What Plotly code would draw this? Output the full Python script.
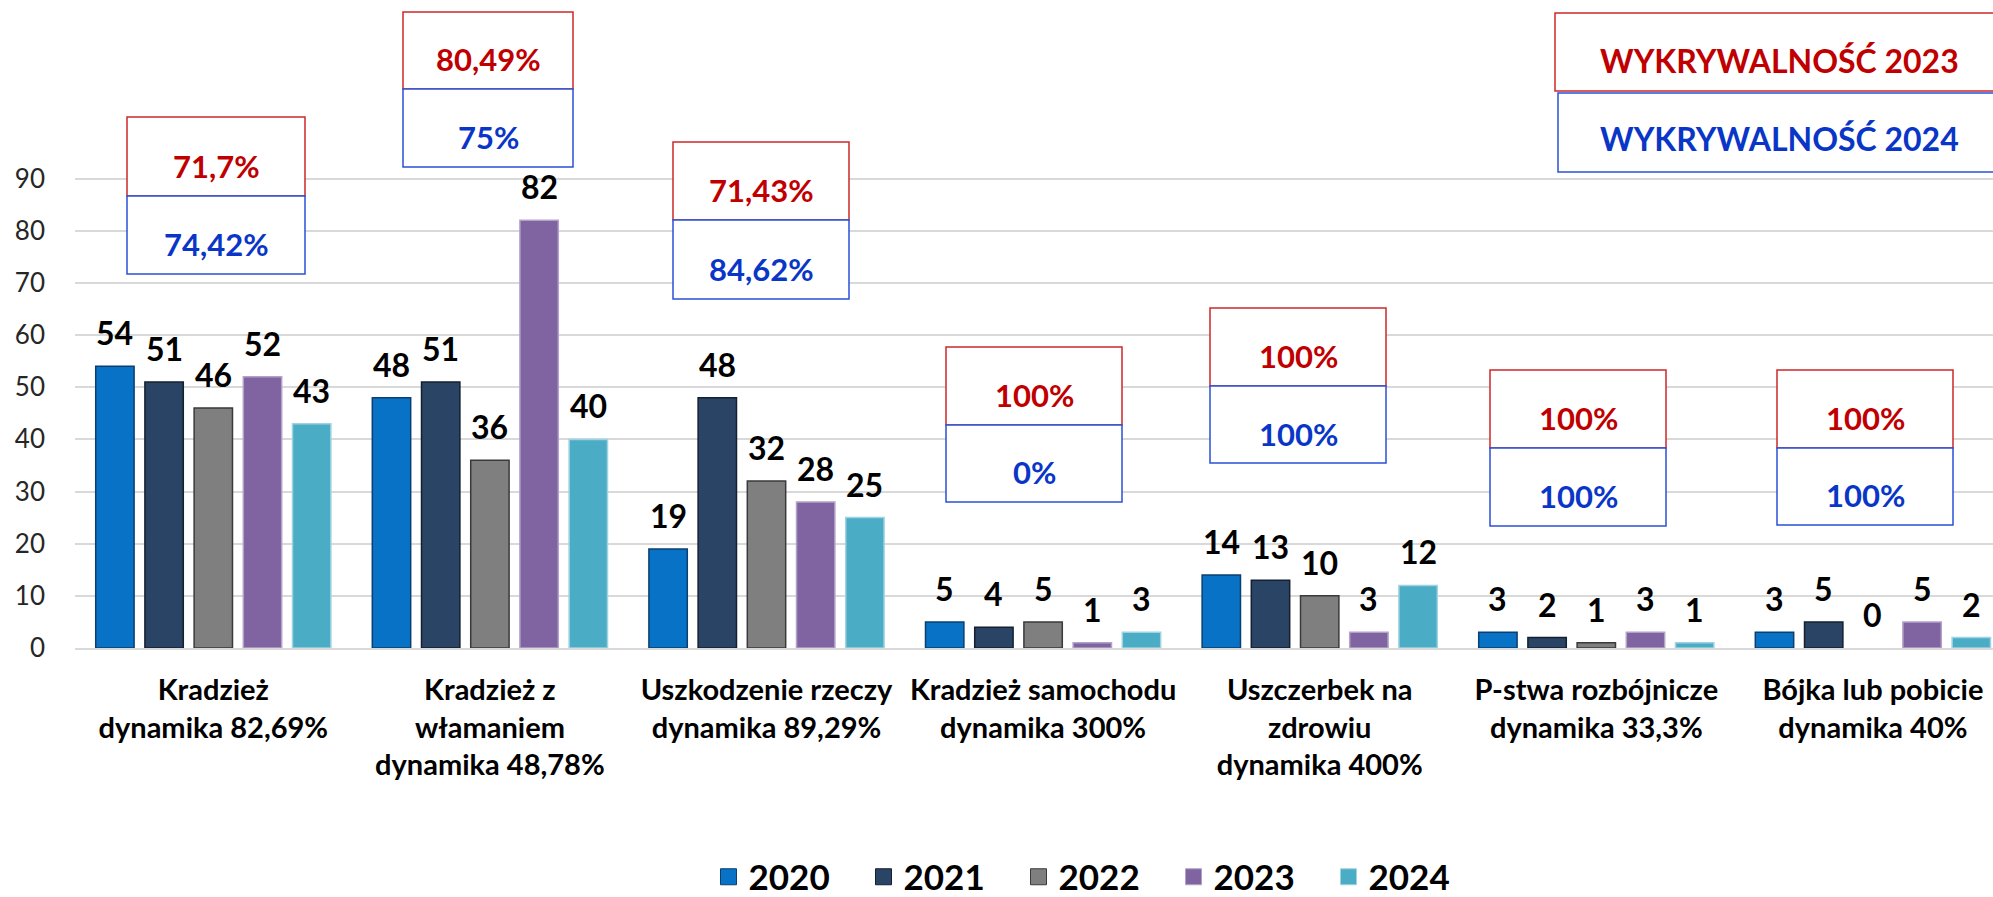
import plotly.graph_objects as go

# ---------------- data ----------------
categories = [
    "Kradzież<br>dynamika 82,69%",
    "Kradzież z<br>włamaniem<br>dynamika 48,78%",
    "Uszkodzenie rzeczy<br>dynamika 89,29%",
    "Kradzież samochodu<br>dynamika 300%",
    "Uszczerbek na<br>zdrowiu<br>dynamika 400%",
    "P-stwa rozbójnicze<br>dynamika 33,3%",
    "Bójka lub pobicie<br>dynamika 40%",
]
years = ["2020", "2021", "2022", "2023", "2024"]
v2020 = [54, 48, 19, 5, 14, 3, 3]
v2021 = [51, 51, 48, 4, 13, 2, 5]
v2022 = [46, 36, 32, 5, 10, 1, 0]
v2023 = [52, 82, 28, 1, 3, 3, 5]
v2024 = [43, 40, 25, 3, 12, 1, 2]
rate2023 = ["71,7%", "80,49%", "71,43%", "100%", "100%", "100%", "100%"]
rate2024 = ["74,42%", "75%", "84,62%", "0%", "100%", "100%", "100%"]
legend_box_texts = ["WYKRYWALNOŚĆ 2023", "WYKRYWALNOŚĆ 2024"]
y_ticks = [0, 10, 20, 30, 40, 50, 60, 70, 80, 90]

series = [v2020, v2021, v2022, v2023, v2024]

# ---------------- style / layout ----------------
W, H = 1993, 897
ML, MR, MT, MB = 75, 0, 176, 249
PW, PH = W - ML - MR, H - MT - MB
FONT = "Lato"
fill_colors = ["#0872C6", "#2A4466", "#7F7F7F", "#8064A2", "#4BACC6"]
line_colors = ["#0B3F70", "#141F30", "#3A3A3A", "#B3A2C8", "#9FD3E0"]
RED_TXT, BLUE_TXT = "#C00000", "#0A36C8"
RED_LINE, BLUE_LINE = "#CC2A2A", "#2A50D8"
BARGAP, BARGROUPGAP = 0.1106, 0.22
CAT_PX = 276.6  # pixel width of one category slot

# annotation boxes, in pixel coordinates of the figure (x0, x1), (y0, y1)
box_x = [(127, 305), (403, 573), (673, 849), (946, 1122), (1210, 1386), (1490, 1666), (1777, 1953)]
red_y = [(117, 196), (12, 89), (142, 220), (347, 425), (308, 386), (370, 448), (370, 448)]
blue_y = [(196, 274), (89, 167), (220, 299), (425, 502), (386, 463), (448, 526), (448, 525)]
legend_boxes = [((1555, 2005), (13, 91)), ((1558, 2005), (93, 172))]
legend_text_pos = [(1779, 60), (1779, 138.5)]


def xp(px):
    return (px - ML) / PW


def yp(py):
    return (H - MB - py) / PH


fig = go.Figure()
for j, (yr, vals) in enumerate(zip(years, series)):
    fig.add_trace(go.Bar(
        x=categories, y=vals, name=yr, showlegend=False,
        marker=dict(color=fill_colors[j],
                    line=dict(color=line_colors[j], width=[1.5 if v > 0 else 0 for v in vals])),
        hoverinfo="skip",
    ))
    # legend proxy
    fig.add_trace(go.Scatter(
        x=[None], y=[None], mode="markers", name=yr,
        marker=dict(symbol="square", size=16, color=fill_colors[j],
                    line=dict(color=line_colors[j], width=1)),
    ))

annotations = []
slot = (1 - BARGAP) / len(series)
for j, vals in enumerate(series):
    for i, v in enumerate(vals):
        annotations.append(dict(
            x=i + (j - (len(series) - 1) / 2) * slot, y=v, xref="x", yref="y",
            text=str(v), showarrow=False, yanchor="bottom", yshift=12,
            font=dict(family=FONT, size=32, color="black", weight="bold"),
        ))

shapes = []
for i in range(len(categories)):
    (x0, x1) = box_x[i]
    for (y0, y1), col, txtcol, txt in [(red_y[i], RED_LINE, RED_TXT, rate2023[i]),
                                         (blue_y[i], BLUE_LINE, BLUE_TXT, rate2024[i])]:
        shapes.append(dict(type="rect", xref="paper", yref="paper",
                           x0=xp(x0), x1=xp(x1), y0=yp(y1), y1=yp(y0),
                           line=dict(color=col, width=1.5), fillcolor="white", layer="above"))
        annotations.append(dict(
            x=xp((x0 + x1) / 2), y=yp((y0 + y1) / 2 + 9), xref="paper", yref="paper",
            text=txt, showarrow=False, xanchor="center", yanchor="middle",
            font=dict(family=FONT, size=31, color=txtcol, weight="bold"),
        ))

for k, (((x0, x1), (y0, y1)), col, txtcol) in enumerate(zip(legend_boxes, [RED_LINE, BLUE_LINE], [RED_TXT, BLUE_TXT])):
    shapes.append(dict(type="rect", xref="paper", yref="paper",
                       x0=xp(x0), x1=xp(x1), y0=yp(y1), y1=yp(y0),
                       line=dict(color=col, width=1.5), fillcolor="white", layer="above"))
    tx, ty = legend_text_pos[k]
    annotations.append(dict(
        x=xp(tx), y=yp(ty), xref="paper", yref="paper",
        text=legend_box_texts[k], showarrow=False, xanchor="center", yanchor="middle",
        font=dict(family=FONT, size=32, color=txtcol, weight="bold"),
    ))

fig.update_layout(
    width=W, height=H,
    margin=dict(l=ML, r=MR, t=MT, b=MB, pad=0),
    paper_bgcolor="white", plot_bgcolor="white",
    barmode="group", bargap=BARGAP, bargroupgap=BARGROUPGAP,
    font=dict(family=FONT, color="black"),
    shapes=shapes, annotations=annotations,
    showlegend=True,
    legend=dict(orientation="h", xref="container", yref="container",
                x=1096 / W, xanchor="center", y=1 - 877 / H, yanchor="middle",
                font=dict(family=FONT, size=35, color="black", weight="bold"),
                entrywidth=110, entrywidthmode="pixels", itemwidth=30,
                bgcolor="rgba(0,0,0,0)"),
    xaxis=dict(type="category", range=[-0.5, PW / CAT_PX - 0.5],
               showgrid=False, showline=True, linecolor="#D9D9D9", linewidth=2,
               ticks="", tickangle=0, ticklabelstandoff=15,
               tickfont=dict(family=FONT, size=29, color="black", weight="bold"),
               fixedrange=True),
    yaxis=dict(range=[0, 90.5], tickvals=y_ticks, showgrid=True, gridcolor="#D9D9D9",
               gridwidth=1.5, zeroline=False, showline=False, ticks="",
               ticklabelstandoff=29,
               tickfont=dict(family=FONT, size=26, color="#262626"),
               fixedrange=True),
)

fig.write_html(
    "out.html",
    config={"displayModeBar": False},
    post_script="document.body.style.margin='0';document.body.style.padding='0';"
                "document.documentElement.style.overflow='hidden';",
)
